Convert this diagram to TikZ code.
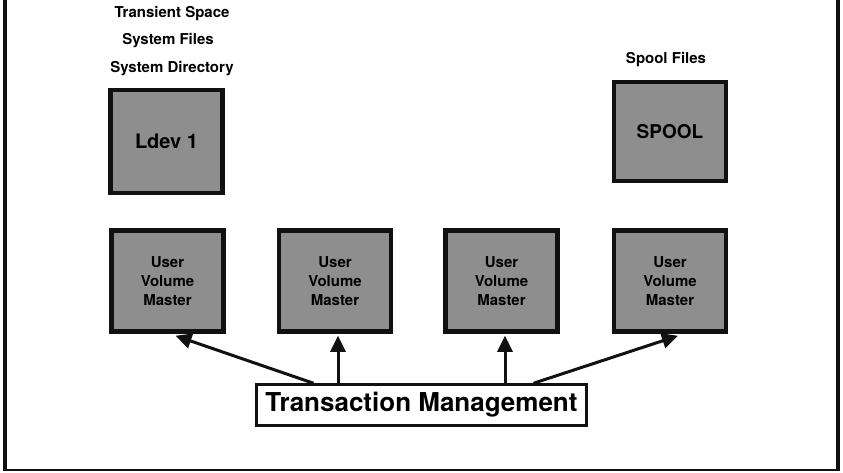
\documentclass[tikz,border=0pt]{standalone}
\usepackage{fontspec}
\setmainfont{TeX Gyre Heros}
\usepackage{xcolor}
\usepackage{tikz}
\usetikzlibrary{arrows.meta,positioning}
\definecolor{diskGray}{HTML}{8E8E8E}
\definecolor{frameBlack}{HTML}{111111}
\tikzset{
  flow/.style={-{Triangle[length=16pt,width=15pt]}, line width=3pt,
    draw=frameBlack},
  disk box/.style={draw=frameBlack, fill=diskGray, line width=4.5pt,
    align=center, minimum width=112pt, minimum height=101pt,
    inner sep=0pt, font=\bfseries},
  volume box/.style={disk box, font=\bfseries\fontsize{15}{19}\selectfont},
  manager box/.style={draw=frameBlack, fill=white, line width=2.5pt,
    minimum width=330pt, minimum height=41pt, inner sep=0pt,
    font=\bfseries\fontsize{26}{30}\selectfont},
  head label/.style={font=\bfseries\fontsize{15}{18}\selectfont,
    inner sep=0pt}
}
\begin{document}
\begin{tikzpicture}[x=1pt, y=-1pt]
  \useasboundingbox (0,0) rectangle (843,472);
  % open frame
  \draw[line width=4pt, draw=frameBlack] (5,0) -- (5,471);
  \draw[line width=4pt, draw=frameBlack] (838,0) -- (838,471);
  \draw[line width=2.5pt, draw=frameBlack] (3,470) -- (840,470);

  % upper row
  \node[disk box, font=\bfseries\fontsize{20}{24}\selectfont,
    minimum height=103pt] (ldev) at (166.5,141.5) {Ldev 1};
  \node[disk box, font=\bfseries\fontsize{19}{23}\selectfont,
    minimum height=99pt] (spool) at (670,131.5) {SPOOL};
  \node[head label] (sysdir) at (172,69) {System Directory};
  \node[head label] (sysfiles) at (168,41) {System Files};
  \node[head label] (transient) at (172,14) {Transient Space};
  \node[head label] (spoolfiles) at (666,60) {Spool Files};

  % user volumes
  \node[volume box] (uvm1) at (167.5,281) {User\\Volume\\Master};
  \node[volume box] (uvm2) at (335,281) {User\\Volume\\Master};
  \node[volume box] (uvm3) at (501.5,281) {User\\Volume\\Master};
  \node[volume box] (uvm4) at (670,281) {User\\Volume\\Master};

  \node[manager box] (tm) at (421.5,405) {Transaction Management};

  \draw[flow] ([xshift=-108pt]tm.north) -- ([xshift=8pt,yshift=-2pt]uvm1.south);
  \draw[flow] ([xshift=-83.5pt]tm.north) -- ([xshift=3pt,yshift=-2pt]uvm2.south);
  \draw[flow] ([xshift=83.5pt]tm.north) -- ([xshift=3.5pt,yshift=-2pt]uvm3.south);
  \draw[flow] ([xshift=112pt]tm.north) -- ([xshift=8pt,yshift=-2pt]uvm4.south);
\end{tikzpicture}
\end{document}
